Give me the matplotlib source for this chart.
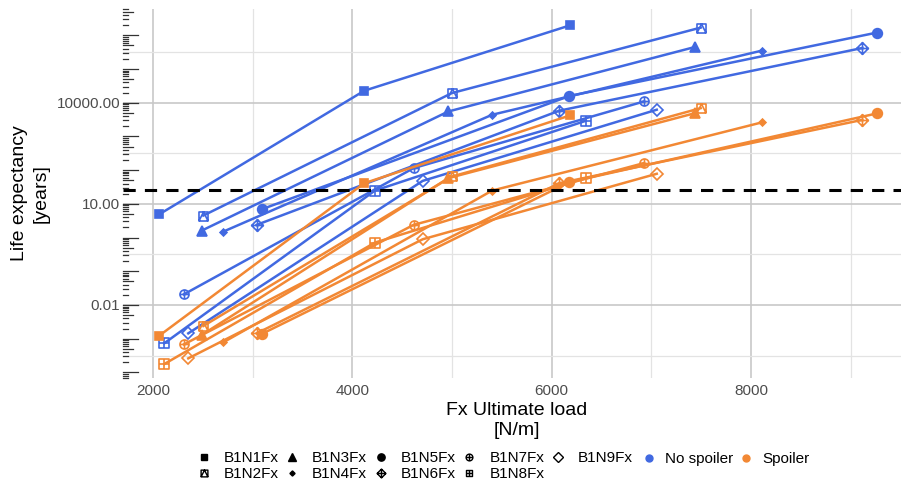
import numpy as np
import matplotlib
matplotlib.use('Agg')
import matplotlib.pyplot as plt
from matplotlib.path import Path
from matplotlib.lines import Line2D
from matplotlib.transforms import blended_transform_factory

plt.rcParams['font.family'] = ['Liberation Sans', 'DejaVu Sans']

# series names (shape legend) and groups (colour legend)
names = ['B1N1Fx', 'B1N2Fx', 'B1N3Fx', 'B1N4Fx', 'B1N5Fx', 'B1N6Fx', 'B1N7Fx', 'B1N8Fx', 'B1N9Fx']
groups = ['No spoiler', 'Spoiler']

# Fx ultimate load [N/m], same for both groups
fx = [
    [2063, 4120, 6184],
    [2505, 5000, 7495],
    [2489, 4963, 7438],
    [2705, 5403, 8107],
    [3091, 6177, 9261],
    [3040, 6076, 9117],
    [2311, 4615, 6926],
    [2113, 4227, 6341],
    [2354, 4706, 7054],
]

# life expectancy [years]
life_nospoiler = [
    [4.9, 2.27e4, 1.97e6],
    [4.5, 1.94e4, 1.69e6],
    [1.61, 5.5e3, 4.5e5],
    [1.50, 4.4e3, 3.5e5],
    [6.9, 1.58e4, 1.2e6],
    [2.38, 5.8e3, 4.2e5],
    [0.0208, 115, 1.09e4],
    [7.3e-4, 24.8, 2.9e3],
    [1.44e-3, 48, 6.2e3],
]
life_spoiler = [
    [1.23e-3, 41, 4.2e3],
    [2.38e-3, 65, 6.9e3],
    [1.29e-3, 58, 4.9e3],
    [7.8e-4, 24.8, 2.6e3],
    [1.38e-3, 44, 4.8e3],
    [1.44e-3, 41, 3.1e3],
    [6.8e-4, 2.38, 162],
    [1.77e-4, 0.71, 58],
    [2.61e-4, 0.89, 78],
]
design_life = 25

colors = {'No spoiler': '#4169E1', 'Spoiler': '#F28834'}


# ggplot style shapes
def compound(*parts):
    verts, codes = [], []
    for v, c in parts:
        verts += list(v)
        codes += list(c)
    return Path(verts, codes)

sq = ([(-1, -1), (1, -1), (1, 1), (-1, 1), (-1, -1)],
      [Path.MOVETO, Path.LINETO, Path.LINETO, Path.LINETO, Path.CLOSEPOLY])
tri = ([(-1, -1), (0, 1), (1, -1)], [Path.MOVETO, Path.LINETO, Path.LINETO])
plus = ([(0, -1), (0, 1), (-1, 0), (1, 0)], [Path.MOVETO, Path.LINETO, Path.MOVETO, Path.LINETO])
dia = ([(0, -1), (1, 0), (0, 1), (-1, 0), (0, -1)],
       [Path.MOVETO, Path.LINETO, Path.LINETO, Path.LINETO, Path.CLOSEPOLY])
circ = Path.unit_circle()
circ_part = (circ.vertices, circ.codes)

sq_tri = compound(sq, tri)
sq_plus = compound(sq, plus)
dia_plus = compound(dia, plus)
circ_plus = compound(circ_part, plus)

# marker, size, filled
shapes = [
    ('s', 6, True),
    (sq_tri, 6.5, False),
    ('^', 7, True),
    ('D', 3.5, True),
    ('o', 7, True),
    (dia_plus, 8.5, False),
    (circ_plus, 6.5, False),
    (sq_plus, 6.5, False),
    ('D', 6.5, False),
]

fig = plt.figure(figsize=(9.01, 4.84), dpi=100)
ax = fig.add_axes([123 / 901, 106 / 484, 788 / 901, 369 / 484])

for grp, data in zip(groups, [life_nospoiler, life_spoiler]):
    c = colors[grp]
    for i in range(len(names)):
        m, ms, filled = shapes[i]
        ax.plot(fx[i], data[i], color=c, lw=1.8, marker=m, ms=ms,
                mfc=c if filled else 'none', mec=c, mew=1.2, zorder=3)

ax.axhline(design_life, color='black', lw=2.2, ls=(0, (4, 3)), zorder=4)

ax.set_yscale('log')
ax.set_xlim(1699, 9605)
ax.set_ylim(10 ** -4.166, 10 ** 6.78)

# grid
ax.set_xticks([2000, 4000, 6000, 8000])
ax.set_xticks([3000, 5000, 7000, 9000], minor=True)
ax.set_yticks([1e-2, 1e1, 1e4])
ax.set_yticklabels(['0.01', '10.00', '10000.00'])
ax.set_yticks([10 ** -3.5, 10 ** -0.5, 10 ** 2.5, 10 ** 5.5], minor=True)
ax.yaxis.set_minor_formatter(plt.NullFormatter())
ax.grid(which='major', color='#c8c8c8', lw=1.2, zorder=0)
ax.grid(which='minor', color='#e3e3e3', lw=0.9, zorder=0)
ax.tick_params(which='both', length=0, labelsize=11, labelcolor='#4d4d4d')
ax.tick_params(axis='x', pad=4)
ax.tick_params(axis='y', pad=2)
for s in ax.spines.values():
    s.set_visible(False)
ax.set_axisbelow(True)

# log ticks on the left, inside the panel
tr = blended_transform_factory(ax.transAxes, ax.transData)
lo, hi = ax.get_ylim()
for d in range(-5, 8):
    for k in range(1, 10):
        v = k * 10.0 ** d
        if v < lo or v > hi:
            continue
        L = 15 if k == 1 else (10 if k == 5 else 5)
        ax.plot([0, L / 788], [v, v], transform=tr, color='#333333', lw=0.9,
                clip_on=False, zorder=5)

ax.set_xlabel('Fx Ultimate load\n[N/m]', fontsize=14, labelpad=3, linespacing=1.25)
ax.set_ylabel('Life expectancy\n[years]', fontsize=14, labelpad=5, linespacing=1.35)

# legends
shape_handles = [Line2D([], [], ls='none', marker=m, ms=ms * 0.75, color='black',
                        mfc='black' if f else 'none', mec='black', mew=1.0)
                 for m, ms, f in shapes]
leg1 = fig.legend(shape_handles, names, loc='upper left', bbox_to_anchor=(196 / 901, 1 - 451 / 484),
                  ncol=5, frameon=False, fontsize=11, handlelength=1.0, handletextpad=0.8,
                  columnspacing=0.4, labelspacing=0.15, borderpad=0, borderaxespad=0)
color_handles = [Line2D([], [], ls='none', marker='o', ms=5, color=colors[g]) for g in groups]
leg2 = fig.legend(color_handles, groups, loc='upper left', bbox_to_anchor=(641 / 901, 1 - 452 / 484),
                  ncol=2, frameon=False, fontsize=11, handlelength=1.0, handletextpad=0.6,
                  columnspacing=0.3, borderpad=0, borderaxespad=0)

fig.savefig('out.png', dpi=100)
